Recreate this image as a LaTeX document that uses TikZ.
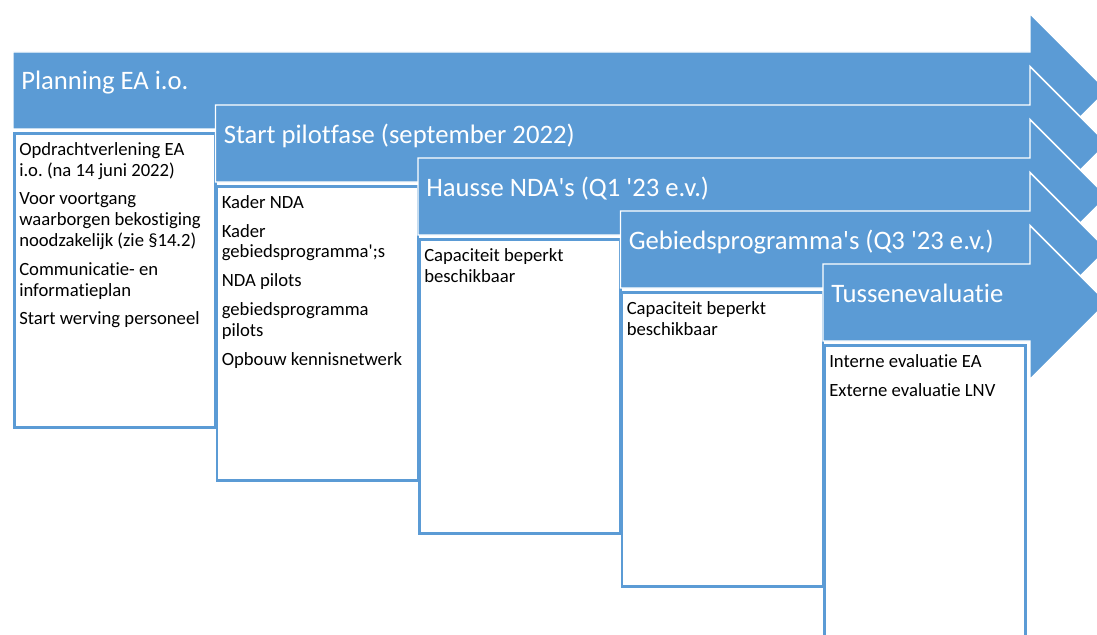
\documentclass[tikz,border=0pt]{standalone}
\usepackage{fontspec}
\setmainfont{Carlito}[Ligatures=NoCommon]
\usetikzlibrary{positioning}
\definecolor{phaseblue}{HTML}{5B9BD5}
\newcommand{\ap}{\textquotesingle}
\frenchspacing

\begin{document}
\begin{tikzpicture}[x=0.75pt, y=-0.75pt,
		phase/.style={fill=phaseblue, draw=white, line width=1.1pt, line join=miter},
		notebox/.style={rectangle, draw=phaseblue, fill=white, line width=2pt, inner sep=0pt,
			minimum width=150.75pt, minimum height=220.5pt, anchor=north west},
		phasetitle/.style={text=white, inner sep=0pt, anchor=base west, font=\fontsize{20}{24}\selectfont},
		notes/.style={inner sep=0pt, align=left, font=\fontsize{14}{15.6}\selectfont},
	]
	\useasboundingbox (0,0) rectangle (1097,635);
	\clip (0,0) rectangle (1097,635);
	% one arrow with its box per phase
	\foreach \i/\phasename/\phasenotes in {
			0/{Planning EA i.o.}/{Opdrachtverlening EA\\i.o. (na 14 juni 2022)\\[6pt]Voor voortgang\\waarborgen bekostiging\\noodzakelijk (zie §14.2)\\[6pt]Communicatie- en\\informatieplan\\[6pt]Start werving personeel},
			1/{Start pilotfase (september 2022)}/{Kader NDA\\[6pt]Kader\\gebiedsprogramma\ap;s\\[6pt]NDA pilots\\[6pt]gebiedsprogramma\\pilots\\[6pt]Opbouw kennisnetwerk},
			2/{Hausse NDA\ap s (Q1 \ap 23 e.v.)}/{Capaciteit beperkt\\beschikbaar},
			3/{Gebiedsprogramma\ap s (Q3 \ap 23 e.v.)}/{Capaciteit beperkt\\beschikbaar},
			4/{Tussenevaluatie}/{Interne evaluatie EA\\[6pt]Externe evaluatie LNV}}
		{
			\pgfmathsetmacro{\xs}{13+202.5*\i}
			\pgfmathsetmacro{\ytop}{52+53*\i}
			\pgfmathsetmacro{\ymid}{\ytop+38.5}
			\draw[phase] (\xs,\ytop) -- (1030,\ytop) -- (1030,\ymid-77) -- (1107,\ymid)
				-- (1030,\ymid+77) -- (1030,\ytop+77) -- (\xs,\ytop+77) -- cycle;
			\node[phasetitle] (title\i) at (\xs+8,\ytop+38) {\phasename};
			\node[notebox] (box\i) at (\xs,\ytop+80) {};
			\node[notes, below right=7.5pt and 4.5pt of box\i.north west] (notes\i) {\phasenotes};
		}
\end{tikzpicture}
\end{document}
